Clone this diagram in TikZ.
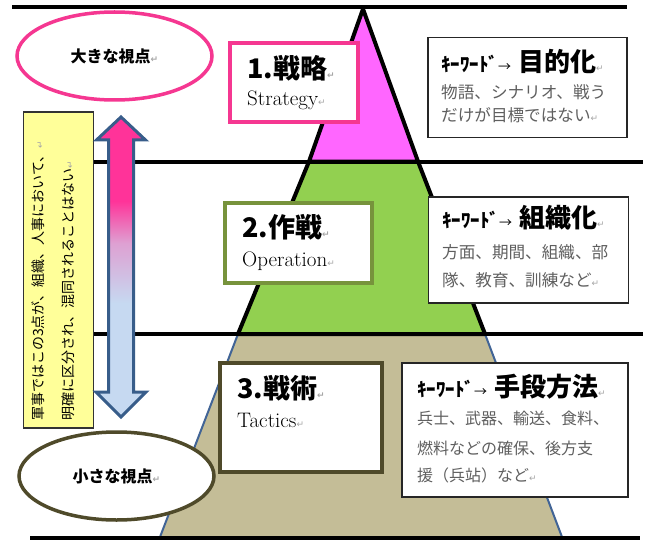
\documentclass[tikz,border=0pt]{standalone}
\usepackage{fontspec}
\newfontfamily\jp{Noto Sans CJK JP}
\newfontfamily\symf{DejaVu Sans}
\usetikzlibrary{shapes.geometric}
\definecolor{tripink}{RGB}{255,102,255}
\definecolor{trigreen}{RGB}{146,208,80}
\definecolor{tritan}{RGB}{196,189,151}
\definecolor{edgeblue}{RGB}{65,100,150}
\definecolor{hpink}{RGB}{255,51,153}
\definecolor{midlav}{RGB}{222,160,210}
\definecolor{lblue}{RGB}{198,217,241}
\definecolor{boxpink}{RGB}{245,55,145}
\definecolor{boxolive}{RGB}{119,147,60}
\definecolor{boxbrown}{RGB}{79,74,42}
\definecolor{arrowblue}{RGB}{56,93,138}
\definecolor{paleyellow}{RGB}{255,255,153}
\definecolor{bodygray}{RGB}{95,95,95}
\pgfdeclareverticalshading{arrowshade}{100bp}{color(0bp)=(lblue); color(44bp)=(lblue); color(54bp)=(midlav); color(61bp)=(hpink); color(100bp)=(hpink)}
\newcommand\retmark{{\symf\fontsize{9}{9}\selectfont\color{gray!70}↵}}
\newcommand\kwlabel{{\jp\bfseries\fontsize{19}{19}\selectfont ｷｰﾜｰﾄﾞ}{\jp\fontsize{13}{13}\selectfont →}\hspace{7pt}}
\begin{document}
\begin{tikzpicture}[x=1pt,y=-1pt,
  hline/.style={line width=4pt, black},
  title/.style={font=\jp\bfseries\fontsize{27}{27}\selectfont, anchor=west, inner sep=0},
  eng/.style={font=\fontsize{21}{21}\selectfont, anchor=west, inner sep=0},
  kwhead/.style={anchor=west, inner sep=0},
  kwbody/.style={font=\jp\fontsize{16.6}{16.6}\selectfont, text=bodygray, anchor=west, inner sep=0},
  kwbox/.style={draw=black!85, line width=1.5pt, fill=white, inner sep=0},
  tbox/.style={fill=white, inner sep=0},
  view/.style={ellipse, draw, fill=white, line width=3.5pt, inner sep=0, minimum width=195pt, minimum height=88pt, font=\jp\bfseries\fontsize{16}{16}\selectfont}]
\useasboundingbox (0,0) rectangle (652,540);
% pyramid
\coordinate (P0) at (363,9);
\coordinate (L1) at (309,161.5);
\coordinate (R1) at (418,161.5);
\coordinate (L2) at (238,334);
\coordinate (R2) at (485,334);
\coordinate (L3) at (160,537);
\coordinate (R3) at (562,537);
\filldraw[fill=tritan, draw=edgeblue, line width=2pt] (L2) -- (R2) -- (R3) -- (L3) -- cycle;
\filldraw[fill=trigreen, draw=black, line width=4pt, line join=round] (L1) -- (R1) -- (R2) -- (L2) -- cycle;
\filldraw[fill=tripink, draw=black, line width=4pt, line join=round] (P0) -- (R1) -- (L1) -- cycle;
% horizontal lines
\coordinate (h0a) at (12,7.5);   \coordinate (h0b) at (627,7.5);
\coordinate (h1a) at (30,161.5); \coordinate (h1b) at (643,161.5);
\coordinate (h2a) at (30,334);   \coordinate (h2b) at (643,334);
\coordinate (h3a) at (30,537.5); \coordinate (h3b) at (640,537.5);
\draw[hline] (h0a) -- (h0b);
\draw[hline] (h1a) -- (h1b);
\draw[hline] (h2a) -- (h2b);
\draw[hline] (h3a) -- (h3b);
% title boxes
\node[tbox, draw=boxpink, line width=4pt, minimum width=128pt, minimum height=79pt] (b1) at (294,82.5) {};
\node[title] (b1t) at (247,68) {1.戦略\retmark};
\node[eng] (b1e) at (247,100) {Strategy\retmark};
\node[tbox, draw=boxolive, line width=3.5pt, minimum width=147pt, minimum height=80pt] (b2) at (298.5,243) {};
\node[title] (b2t) at (242,227) {2.作戦\retmark};
\node[eng] (b2e) at (242,261) {Operation\retmark};
\node[tbox, draw=boxbrown, line width=4.5pt, minimum width=162pt, minimum height=109pt] (b3) at (301,417.5) {};
\node[title] (b3t) at (237,388) {3.戦術\retmark};
\node[eng] (b3e) at (237,420) {Tactics\retmark};
% keyword boxes
\node[kwbox, minimum width=199pt, minimum height=100pt] (k1) at (527.5,87.5) {};
\node[kwhead] (k1h) at (441,62) {\kwlabel{\jp\bfseries\fontsize{26}{26}\selectfont 目的化}\retmark};
\node[kwbody] (k1a) at (441,92) {物語、シナリオ、戦う};
\node[kwbody] (k1b) at (441,115) {だけが目標ではない\retmark};
\node[kwbox, minimum width=200pt, minimum height=106pt] (k2) at (528.5,250) {};
\node[kwhead] (k2h) at (442,218) {\kwlabel{\jp\bfseries\fontsize{26}{26}\selectfont 組織化}\retmark};
\node[kwbody] (k2a) at (442,252) {方面、期間、組織、部};
\node[kwbody] (k2b) at (442,280) {隊、教育、訓練など\retmark};
\node[kwbox, minimum width=226pt, minimum height=134pt] (k3) at (515,430) {};
\node[kwhead] (k3h) at (417,387) {\kwlabel{\jp\bfseries\fontsize{26}{26}\selectfont 手段方法}\retmark};
\node[kwbody, font=\jp\fontsize{16}{16}\selectfont] (k3a) at (417,418) {兵士、武器、輸送、食料、};
\node[kwbody, font=\jp\fontsize{16}{16}\selectfont] (k3b) at (417,448) {燃料などの確保、後方支};
\node[kwbody, font=\jp\fontsize{16}{16}\selectfont] (k3c) at (417,475) {援（兵站）など\retmark};
% ellipses
\node[view, draw=boxpink] (big) at (114.5,56) {大きな視点\retmark};
\node[view, draw=boxbrown] (small) at (116.5,476) {小さな視点\retmark};
% yellow note
\node[draw=black!80, fill=paleyellow, line width=1.2pt, inner sep=0, minimum width=70pt, minimum height=316pt] (note) at (58.5,270) {};
\node[rotate=90, anchor=north west, align=left, inner sep=0, font=\jp\fontsize{14}{30}\selectfont] (notet) at (31,421) {軍事ではこの3点が、組織、人事において、\retmark\\明確に区分され、混同されることはない\retmark};
% double arrow
\shadedraw[shading=arrowshade, draw=arrowblue, line width=3pt, line join=miter]
  (121,117) -- (145.5,140) -- (133.5,140) -- (133.5,392) -- (146,392) -- (121,417)
  -- (96,392) -- (108.5,392) -- (108.5,140) -- (96.5,140) -- cycle;
\end{tikzpicture}
\end{document}
